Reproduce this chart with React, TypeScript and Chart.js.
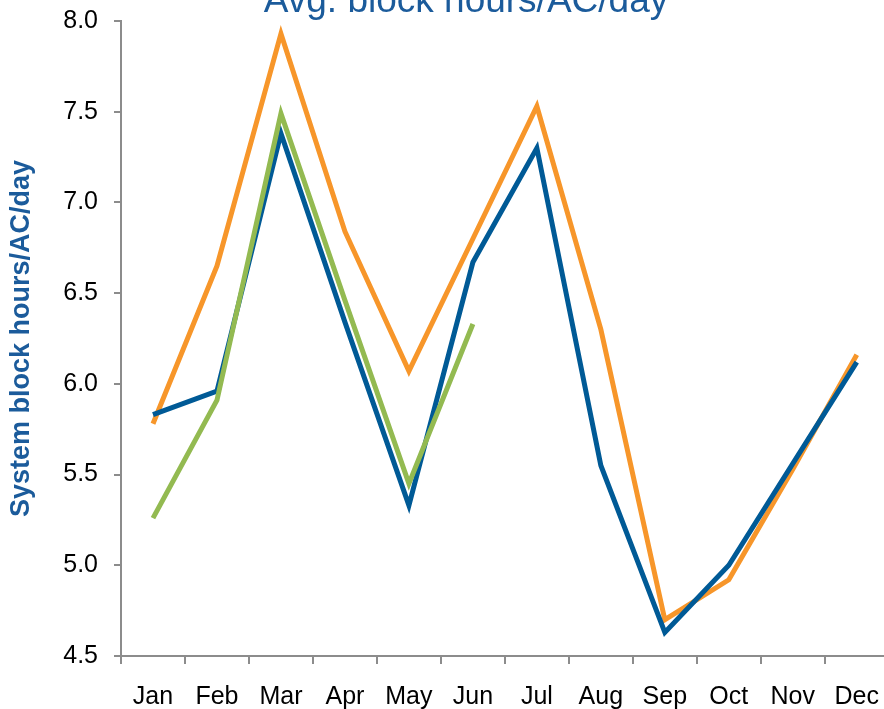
import React, { useEffect, useRef } from "react";
import { Chart, registerables } from "chart.js";

Chart.register(...registerables);

const months = ["Jan", "Feb", "Mar", "Apr", "May", "Jun", "Jul", "Aug", "Sep", "Oct", "Nov", "Dec"];
const blueSeries = [5.83, 5.96, 7.38, 6.34, 5.33, 6.67, 7.30, 5.55, 4.63, 5.00, 5.56, 6.12];
const orangeSeries = [5.78, 6.65, 7.93, 6.84, 6.07, 6.80, 7.53, 6.30, 4.70, 4.92, 5.53, 6.16];
const greenSeries = [5.26, 5.91, 7.49, 6.46, 5.45, 6.33, null, null, null, null, null, null];
const yMin = 4.5;
const yMax = 8.0;
const yStep = 0.5;
const chartTitle = "Avg. block hours/AC/day";
const yTitle = "System block hours/AC/day";

const FONT = "Arial, 'Liberation Sans', sans-serif";
const SHIFT = 10;

const titlePlugin = {
  id: "customTitle",
  afterDraw(chart: any) {
    const ctx = chart.ctx;
    ctx.save();
    ctx.font = `37px ${FONT}`;
    ctx.fillStyle = "#1B5B9B";
    ctx.textAlign = "center";
    ctx.textBaseline = "alphabetic";
    ctx.fillText(chartTitle, 466, 12 + SHIFT);
    ctx.restore();
  },
};

export default function App() {
  const ref = useRef<HTMLCanvasElement | null>(null);
  useEffect(() => {
    if (!ref.current) return;
    const chart = new Chart(ref.current, {
      type: "line",
      data: {
        labels: months,
        datasets: [
          { label: "A", data: blueSeries, borderColor: "#005A96", borderWidth: 5, pointRadius: 0, tension: 0, order: 1 },
          { label: "B", data: orangeSeries, borderColor: "#F7962A", borderWidth: 5, pointRadius: 0, tension: 0, order: 2 },
          { label: "C", data: greenSeries, borderColor: "#93BA51", borderWidth: 5, pointRadius: 0, tension: 0, order: 0 },
        ],
      },
      plugins: [titlePlugin],
      options: {
        responsive: false,
        animation: false,
        layout: { padding: { top: 10, right: 0, left: 0, bottom: 0 } },
        plugins: { legend: { display: false }, tooltip: { enabled: false }, title: { display: false } },
        scales: {
          x: {
            type: "category",
            offset: true,
            grid: { display: true, drawOnChartArea: false, offset: true, color: "#8C8C8C", lineWidth: 2, tickLength: 8 },
            border: { display: true, color: "#8C8C8C", width: 2 },
            ticks: { color: "#000", font: { family: FONT, size: 25 }, padding: 18, maxRotation: 0, autoSkip: false },
            afterFit: (s: any) => { s.height = 709 - 656; },
          },
          y: {
            min: yMin,
            max: yMax,
            grid: { display: true, drawOnChartArea: false, color: "#8C8C8C", lineWidth: 2, tickLength: 7 },
            border: { display: true, color: "#8C8C8C", width: 2 },
            ticks: { stepSize: yStep, color: "#000", font: { family: FONT, size: 25 }, padding: 16, callback: (v: any) => Number(v).toFixed(1) },
            title: { display: true, text: yTitle, color: "#1B5B9B", font: { family: FONT, size: 27, weight: "bold" }, padding: { top: 5, bottom: 0 } },
            afterFit: (s: any) => { s.width = 121; },
          },
        },
      },
    } as any);
    return () => chart.destroy();
  }, []);
  return (
    <div style={{ position: "fixed", left: 0, top: 0, width: 884, height: 709, overflow: "hidden", background: "#fff" }}>
      <canvas ref={ref} width={897} height={709 + SHIFT} style={{ display: "block", marginTop: -SHIFT }} />
    </div>
  );
}
